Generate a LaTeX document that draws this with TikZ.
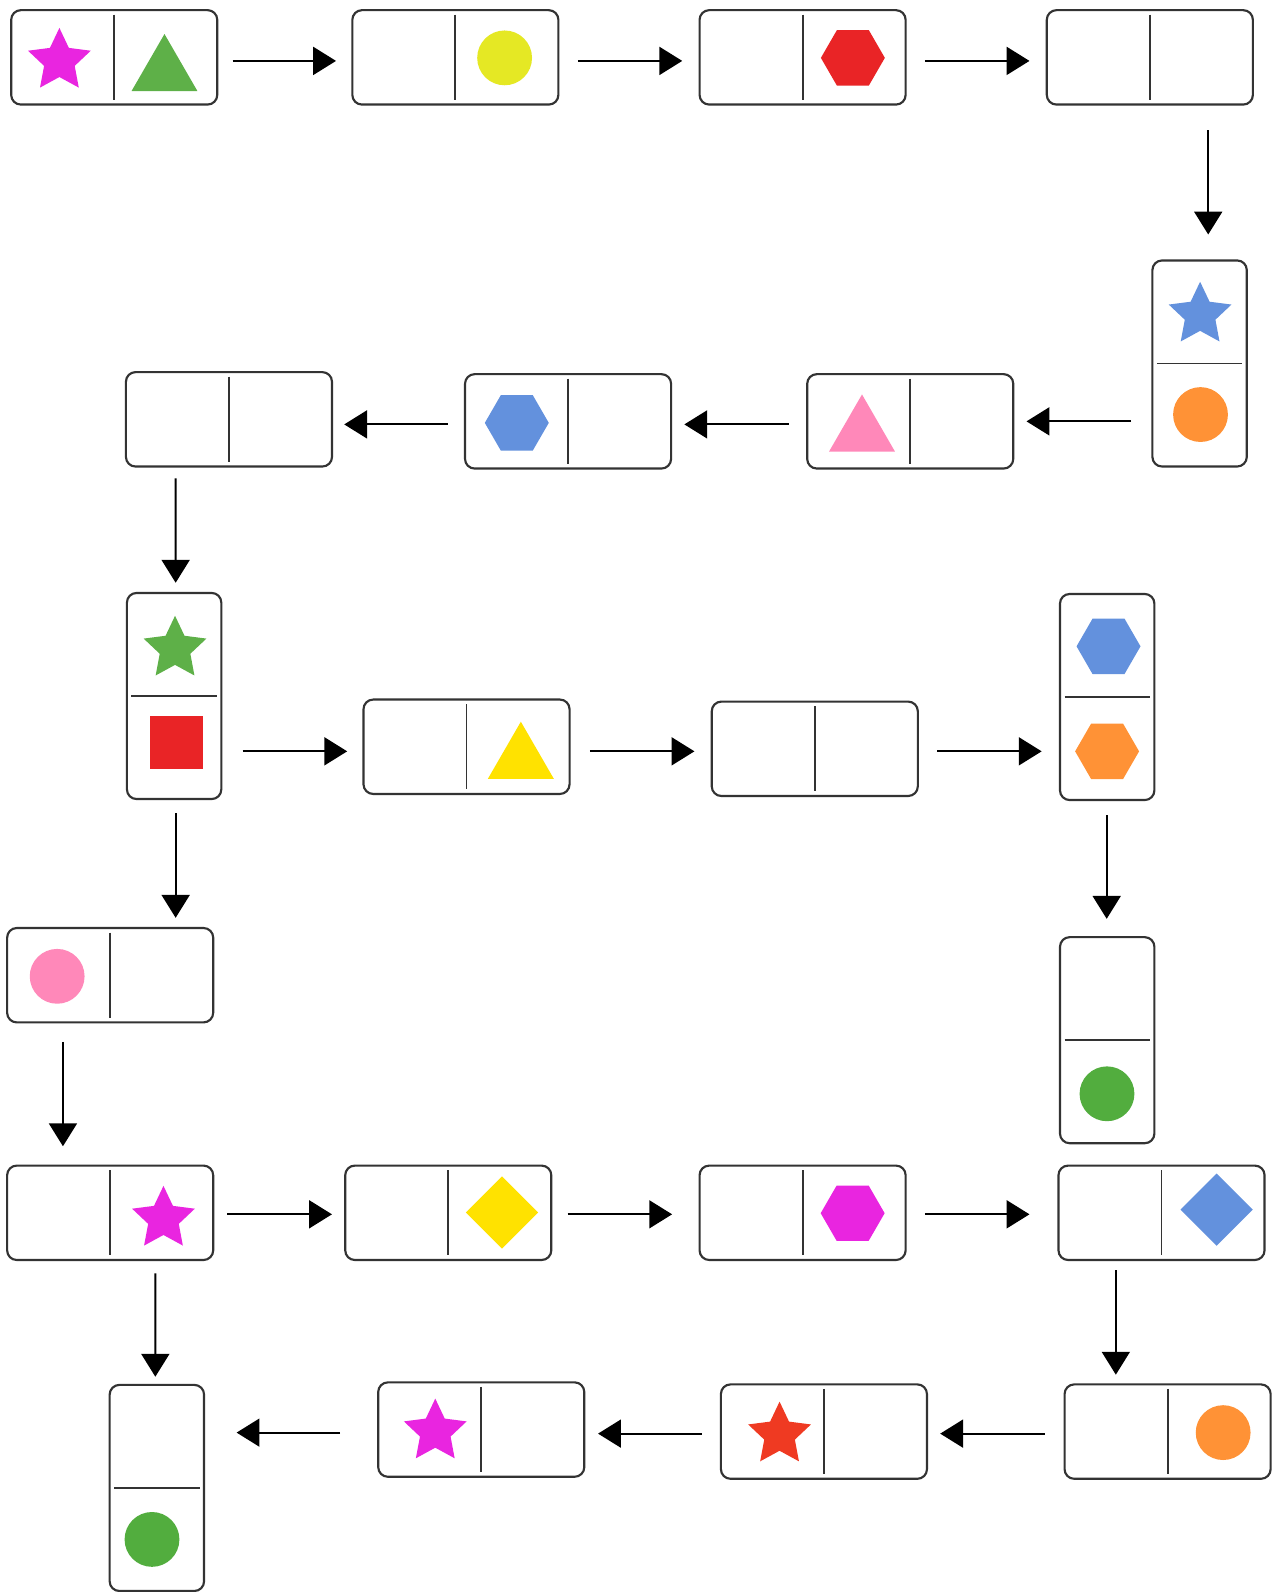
\documentclass[tikz,border=0pt]{standalone}
\usepackage{xcolor}
\usepackage{tikz}
\usetikzlibrary{arrows.meta,shapes.geometric,calc}
\definecolor{tileline}{RGB}{51,51,51}
\definecolor{cMag}{RGB}{233,37,224}
\definecolor{cGreen}{RGB}{94,176,72}
\definecolor{cYel}{RGB}{229,232,36}
\definecolor{cRed}{RGB}{233,36,38}
\definecolor{cBlue}{RGB}{99,145,221}
\definecolor{cOrange}{RGB}{255,146,54}
\definecolor{cPink}{RGB}{255,136,185}
\definecolor{cGold}{RGB}{255,226,0}
\definecolor{cLeaf}{RGB}{82,173,62}
\definecolor{cScarlet}{RGB}{239,58,34}
\tikzset{
  divl/.style  = {draw=tileline, line width=1pt},
  hdom/.style  = {rectangle, rounded corners=0.19cm, draw=tileline, line width=1.2pt,
                  fill=white, minimum width=4.06cm, minimum height=1.86cm, inner sep=0pt,
                  path picture={\draw[divl] ([yshift=-0.09cm]path picture bounding box.north)
                                -- ([yshift=0.09cm]path picture bounding box.south);}},
  vdom/.style  = {rectangle, rounded corners=0.19cm, draw=tileline, line width=1.2pt,
                  fill=white, minimum width=1.86cm, minimum height=4.06cm, inner sep=0pt,
                  path picture={\draw[divl] ([xshift=0.09cm]path picture bounding box.west)
                                -- ([xshift=-0.09cm]path picture bounding box.east);}},
  starsh/.style = {star, star points=5, star point ratio=2.05, minimum size=1.3cm,
                   inner sep=0pt, draw=none},
  dot/.style    = {circle, minimum size=1.08cm, inner sep=0pt, draw=none},
  hexa/.style   = {regular polygon, regular polygon sides=6, minimum size=1.26cm,
                   inner sep=0pt, draw=none},
  tri/.style    = {regular polygon, regular polygon sides=3, minimum size=1.5cm,
                   inner sep=0pt, draw=none},
  dia/.style    = {diamond, minimum size=1.43cm, inner sep=0pt, draw=none},
  sq/.style     = {rectangle, minimum size=1.04cm, inner sep=0pt, draw=none},
  fl/.style     = {-{Triangle[length=0.45cm, width=0.55cm]}, line width=1.1pt, black},
}

\begin{document}
\begin{tikzpicture}[x=0.02cm, y=-0.02cm]
    \useasboundingbox (0,0) rectangle (1254,1568);
    % row 1
    \node[hdom] (t1) at (112.5,56.5) {};
    \node[hdom] (t2) at (448.5,56.5) {};
    \node[hdom] (t3) at (790.5,56.5) {};
    \node[hdom] (t4) at (1132.5,56.5) {};
    % row 2
    \node[vdom] (t5) at (1181.5,358) {};
    \node[hdom] (t6) at (896.5,415) {};
    \node[hdom] (t7) at (559.5,415) {};
    \node[hdom] (t8) at (225.5,413) {};
    % row 3
    \node[vdom] (t9)  at (171.5,685.5) {};
    \node[hdom] (t10) at (459.5,735.5) {};
    \node[hdom] (t11) at (802.5,737.5) {};
    \node[vdom] (t12) at (1090.5,686.5) {};
    % row 4
    \node[hdom] (t13) at (108.5,960.5) {};
    \node[vdom] (t14) at (1090.5,1024.5) {};
    % row 5
    \node[hdom] (t15) at (108.5,1194.5) {};
    \node[hdom] (t16) at (441.5,1194.5) {};
    \node[hdom] (t17) at (790.5,1194.5) {};
    \node[hdom] (t18) at (1144,1194.5) {};
    % row 6
    \node[hdom] (t19) at (1150,1410) {};
    \node[hdom] (t20) at (811.5,1410) {};
    \node[hdom] (t21) at (474,1408) {};
    \node[vdom] (t22) at (154.5,1465.5) {};

    % pictures on the halves
    \node[starsh, fill=cMag]    (s1l)  at (58.5,60) {};
    \node[tri, fill=cGreen]     (s1r)  at (162,71) {};
    \node[dot, fill=cYel]       (s2r)  at (497,57) {};
    \node[hexa, fill=cRed]      (s3r)  at (840,57) {};
    \node[starsh, fill=cBlue]   (s5t)  at (1182,310) {};
    \node[dot, fill=cOrange]    (s5b)  at (1182.4,408.3) {};
    \node[tri, fill=cPink]      (s6l)  at (849,426) {};
    \node[hexa, fill=cBlue]     (s7l)  at (509,416.5) {};
    \node[starsh, fill=cGreen]  (s9t)  at (172.4,639) {};
    \node[sq, fill=cRed]        (s9b)  at (173.9,731.2) {};
    \node[tri, fill=cGold]      (s10r) at (513,748.3) {};
    \node[hexa, fill=cBlue]     (s12t) at (1091.8,636.6) {};
    \node[hexa, fill=cOrange]   (s12b) at (1090.4,740) {};
    \node[dot, fill=cPink]      (s13l) at (56.3,961.6) {};
    \node[dot, fill=cLeaf]      (s14b) at (1090.3,1077.3) {};
    \node[starsh, fill=cMag]    (s15r) at (161,1200.5) {};
    \node[dia, fill=cGold]      (s16r) at (494.4,1194.2) {};
    \node[hexa, fill=cMag]      (s17r) at (839.8,1194.9) {};
    \node[dia, fill=cBlue]      (s18r) at (1198.3,1191.4) {};
    \node[dot, fill=cOrange]    (s19r) at (1204.7,1411) {};
    \node[starsh, fill=cScarlet] (s20l) at (767.8,1413) {};
    \node[starsh, fill=cMag]    (s21l) at (428.7,1410) {};
    \node[dot, fill=cLeaf]      (s22b) at (149.7,1516.2) {};

    % chain of arrows
    \draw[fl] ($(t1.east)+(14,3.5)$) -- ($(t2.west)+(-15,3.5)$);
    \draw[fl] ($(t2.east)+(18,3.5)$) -- ($(t3.west)+(-16,3.5)$);
    \draw[fl] ($(t3.east)+(18,3.5)$) -- ($(t4.west)+(-16,3.5)$);
    \draw[fl] ($(t4.south)+(57.5,24)$) -- ($(t5.north)+(8.5,-24.5)$);
    \draw[fl] ($(t5.west)+(-20,57)$) -- ($(t6.east)+(12,0)$);
    \draw[fl] ($(t6.west)+(-17,3)$) -- ($(t7.east)+(12,3)$);
    \draw[fl] ($(t7.west)+(-16,3)$) -- ($(t8.east)+(11,5)$);
    \draw[fl] ($(t8.south)+(-52.5,10.5)$) -- ($(t9.north)+(1.5,-9)$);
    \draw[fl] ($(t9.east)+(20,54.5)$) -- ($(t10.west)+(-15,4.5)$);
    \draw[fl] ($(t10.east)+(19,4.5)$) -- ($(t11.west)+(-16,2.5)$);
    \draw[fl] ($(t11.east)+(18,2.5)$) -- ($(t12.west)+(-17,53.5)$);
    \draw[fl] ($(t9.south)+(1.5,13)$) -- ($(t13.north)+(64.5,-9)$);
    \draw[fl] ($(t12.south)+(-0.5,14)$) -- ($(t14.north)+(-0.5,-17)$);
    \draw[fl] ($(t13.south)+(-46.5,18)$) -- ($(t15.north)+(-46.5,-18)$);
    \draw[fl] ($(t15.east)+(13,1.5)$) -- ($(t16.west)+(-12,1.5)$);
    \draw[fl] ($(t16.east)+(15,1.5)$) -- ($(t17.west)+(-26,1.5)$);
    \draw[fl] ($(t17.east)+(18,1.5)$) -- ($(t18.west)+(-27.5,1.5)$);
    \draw[fl] ($(t18.south)+(-45,9)$) -- ($(t19.north)+(-51,-8.5)$);
    \draw[fl] ($(t15.south)+(44.5,12)$) -- ($(t22.north)+(-1.5,-7)$);
    \draw[fl] ($(t19.west)+(-18.5,2)$) -- ($(t20.east)+(12,2)$);
    \draw[fl] ($(t20.west)+(-18,2)$) -- ($(t21.east)+(12.5,4)$);
    \draw[fl] ($(t21.west)+(-36.5,3)$) -- ($(t22.east)+(31,-54.5)$);
\end{tikzpicture}
\end{document}
